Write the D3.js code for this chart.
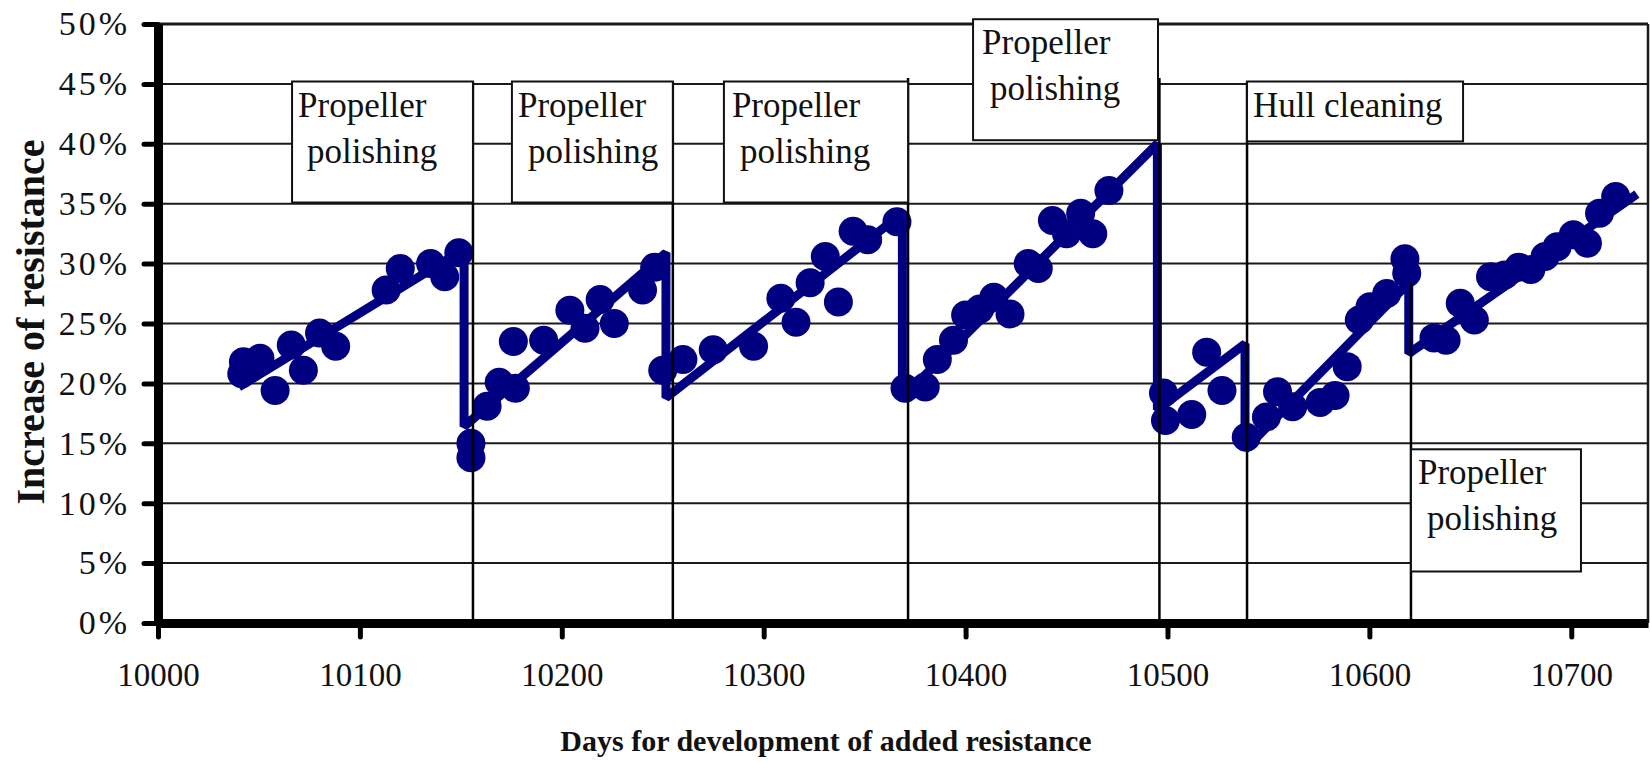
<!DOCTYPE html>
<html>
<head>
<meta charset="utf-8">
<script src="https://cdn.jsdelivr.net/npm/d3@7"></script>
<style>
  body { margin: 0; background: #fff; }
  svg { display: block; }
</style>
</head>
<body>
<svg id="chart" width="1650" height="763"></svg>
<script>
// Measured increase of resistance (day, %)
let days = [
  10041.5, 10042.3, 10050.5, 10058, 10066, 10072, 10080, 10088, 10113, 10120, 10135, 10142, 10149, 10155, 10155,
  10163, 10169, 10177, 10176, 10191, 10204, 10211.5, 10219, 10226, 10240, 10246,
  10250, 10260, 10275, 10295, 10308.5, 10316, 10323, 10330.5, 10337, 10344.3, 10351.5, 10366,
  10370, 10380, 10386, 10394, 10400, 10407, 10414, 10422, 10431, 10436, 10443, 10450, 10457, 10463, 10471,
  10498, 10499, 10512, 10519.4, 10527,
  10539, 10549, 10554.5, 10562, 10575.6, 10583, 10589, 10595, 10600.3, 10608.6, 10617.6, 10618.5,
  10632, 10638, 10645, 10652, 10660, 10667, 10674, 10680, 10687, 10693, 10701, 10708, 10714, 10722
];
let resistance = [
  20.8, 21.8, 22.1, 19.4, 23.2, 21.1, 24.2, 23.1, 27.8, 29.6, 30.0, 28.9, 30.9, 15.0, 13.8,
  18.1, 20.1, 19.6, 23.5, 23.6, 26.1, 24.6, 27.0, 25.0, 27.8, 29.7,
  21.1, 22.0, 22.8, 23.1, 27.1, 25.1, 28.4, 30.6, 26.8, 32.7, 32.0, 33.5,
  19.6, 19.7, 22.0, 23.6, 25.7, 26.2, 27.2, 25.8, 30.0, 29.6, 33.6, 32.5, 34.2, 32.5, 36.1,
  19.2, 16.9, 17.4, 22.6, 19.4,
  15.5, 17.2, 19.3, 18.05, 18.4, 19.0, 21.4, 25.3, 26.4, 27.5, 30.4, 29.2,
  23.8, 23.6, 26.7, 25.3, 28.9, 29.05, 29.7, 29.5, 30.6, 31.4, 32.4, 31.7, 34.2, 35.6
];

// Sawtooth trend line
let trendDays = [10040, 10151.6, 10151.6, 10251.6, 10251.6, 10368.7, 10368.7, 10495, 10495, 10538.4, 10538.4, 10619.5, 10619.5, 10732.5];
let trendValues = [19.7, 31.2, 16.4, 30.9, 18.8, 34.2, 18.8, 40.0, 17.8, 23.3, 14.5, 28.4, 22.5, 35.8];

// Maintenance events
let eventDays = [10156, 10255, 10371.5, 10496, 10539.4, 10620.6];
let eventLabels = [
  ["Propeller", "polishing"],
  ["Propeller", "polishing"],
  ["Propeller", "polishing"],
  ["Propeller", "polishing"],
  ["Hull cleaning"],
  ["Propeller", "polishing"]
];

let xTicks = [10000, 10100, 10200, 10300, 10400, 10500, 10600, 10700];
let yTicks = [0, 5, 10, 15, 20, 25, 30, 35, 40, 45, 50];

// Label box placement, in chart units
let notes = [
  {x0: 10066.4, x1: 10156, top: 45.2, bottom: 35.1, lineTop: 45.2, indent: [6, 15]},
  {x0: 10175.3, x1: 10255, top: 45.2, bottom: 35.1, lineTop: 45.2, indent: [6, 16]},
  {x0: 10280.3, x1: 10371.5, top: 45.2, bottom: 35.1, lineTop: 45.5, indent: [8, 16]},
  {x0: 10403.7, x1: 10495.3, top: 50.4, bottom: 40.3, lineTop: 45.5, indent: [9, 17]},
  {x0: 10539.4, x1: 10646.4, top: 45.2, bottom: 40.2, lineTop: 45.2, indent: [6]},
  {x0: 10620.6, x1: 10704.8, top: 14.5, bottom: 4.3, lineTop: 28.4, indent: [7, 16]}
];

let navy = "#000080";
let serif = '"Liberation Serif"';
let svg = d3.select("#chart");

let x = d3.scaleLinear().domain([10000, 10738]).range([158, 1648]);
let y = d3.scaleLinear().domain([0, 50]).range([623, 24]);

// Gridlines and right border
svg.append("g")
  .selectAll("line")
  .data(yTicks.filter(d => d > 0))
  .join("line")
  .attr("x1", x(10000))
  .attr("x2", x(10738))
  .attr("y1", d => y(d))
  .attr("y2", d => y(d))
  .attr("stroke", "#1a1a1a")
  .attr("stroke-width", d => d === 50 ? 3 : 2);

svg.append("line")
  .attr("x1", x(10738)).attr("x2", x(10738))
  .attr("y1", y(50)).attr("y2", y(0))
  .attr("stroke", "#1a1a1a")
  .attr("stroke-width", 2.5);

// Trend line
let trend = trendDays.map((d, i) => ({day: d, value: trendValues[i]}));
let lineGenerator = d3.line()
  .x(d => x(d.day))
  .y(d => y(d.value));

svg.append("path")
  .datum(trend)
  .attr("d", lineGenerator)
  .attr("fill", "none")
  .attr("stroke", navy)
  .attr("stroke-width", 9)
  .attr("stroke-linejoin", "bevel");

// Measured points
let points = days.map((d, i) => ({day: d, value: resistance[i]}));
svg.append("g")
  .selectAll("circle")
  .data(points)
  .join("circle")
  .attr("cx", d => x(d.day))
  .attr("cy", d => y(d.value))
  .attr("r", 14.5)
  .attr("fill", navy);

// Event lines
svg.append("g")
  .selectAll("line")
  .data(eventDays)
  .join("line")
  .attr("x1", d => x(d))
  .attr("x2", d => x(d))
  .attr("y1", (d, i) => y(notes[i].lineTop))
  .attr("y2", y(0))
  .attr("stroke", "#000")
  .attr("stroke-width", 2.5);

// Label boxes
let boxes = svg.append("g")
  .selectAll("g")
  .data(notes)
  .join("g");

boxes.append("rect")
  .attr("x", d => x(d.x0))
  .attr("y", d => y(d.top))
  .attr("width", d => x(d.x1) - x(d.x0))
  .attr("height", d => y(d.bottom) - y(d.top))
  .attr("fill", "#fff")
  .attr("stroke", "#111")
  .attr("stroke-width", 2);

boxes.each(function (d, i) {
  d3.select(this)
    .selectAll("text")
    .data(eventLabels[i])
    .join("text")
    .attr("x", (t, j) => x(d.x0) + d.indent[j])
    .attr("y", (t, j) => y(d.top) + 35 + j * 46)
    .style("font-family", serif)
    .style("font-size", "35px")
    .attr("fill", "#111")
    .text(t => t);
});

// Axes
let xAxis = d3.axisBottom(x)
  .tickValues(xTicks)
  .tickFormat(d3.format("d"))
  .tickSize(14)
  .tickSizeOuter(0)
  .tickPadding(26);

let yAxis = d3.axisLeft(y)
  .tickValues(yTicks)
  .tickFormat(d => d + "%")
  .tickSize(14)
  .tickSizeOuter(0)
  .tickPadding(14);

let gx = svg.append("g")
  .attr("transform", `translate(0,${y(0)})`)
  .call(xAxis);

let gy = svg.append("g")
  .attr("transform", `translate(${x(10000)},0)`)
  .call(yAxis);

[gx, gy].forEach(g => {
  g.attr("font-family", null).attr("font-size", null);
  g.select(".domain").attr("stroke", "#000").attr("stroke-width", 9);
  g.selectAll(".tick line")
    .attr("stroke", "#000")
    .attr("stroke-width", 5)
    .attr("stroke-linecap", "round");
  g.selectAll(".tick text")
    .style("font-family", serif)
    .style("font-size", "33px")
    .attr("fill", "#111");
});

// Wider % labels, like the original's typeface
gy.selectAll(".tick text")
  .style("font-size", "34px")
  .style("letter-spacing", "3px");

// Axis titles
svg.append("text")
  .attr("transform", "translate(44,322) rotate(-90)")
  .attr("text-anchor", "middle")
  .style("font-family", serif)
  .style("font-size", "40px")
  .style("font-weight", "bold")
  .attr("fill", "#111")
  .text("Increase of resistance");

svg.append("text")
  .attr("x", 826)
  .attr("y", 751)
  .attr("text-anchor", "middle")
  .style("font-family", serif)
  .style("font-size", "30px")
  .style("font-weight", "bold")
  .attr("fill", "#111")
  .text("Days for development of added resistance");
</script>
</body>
</html>
